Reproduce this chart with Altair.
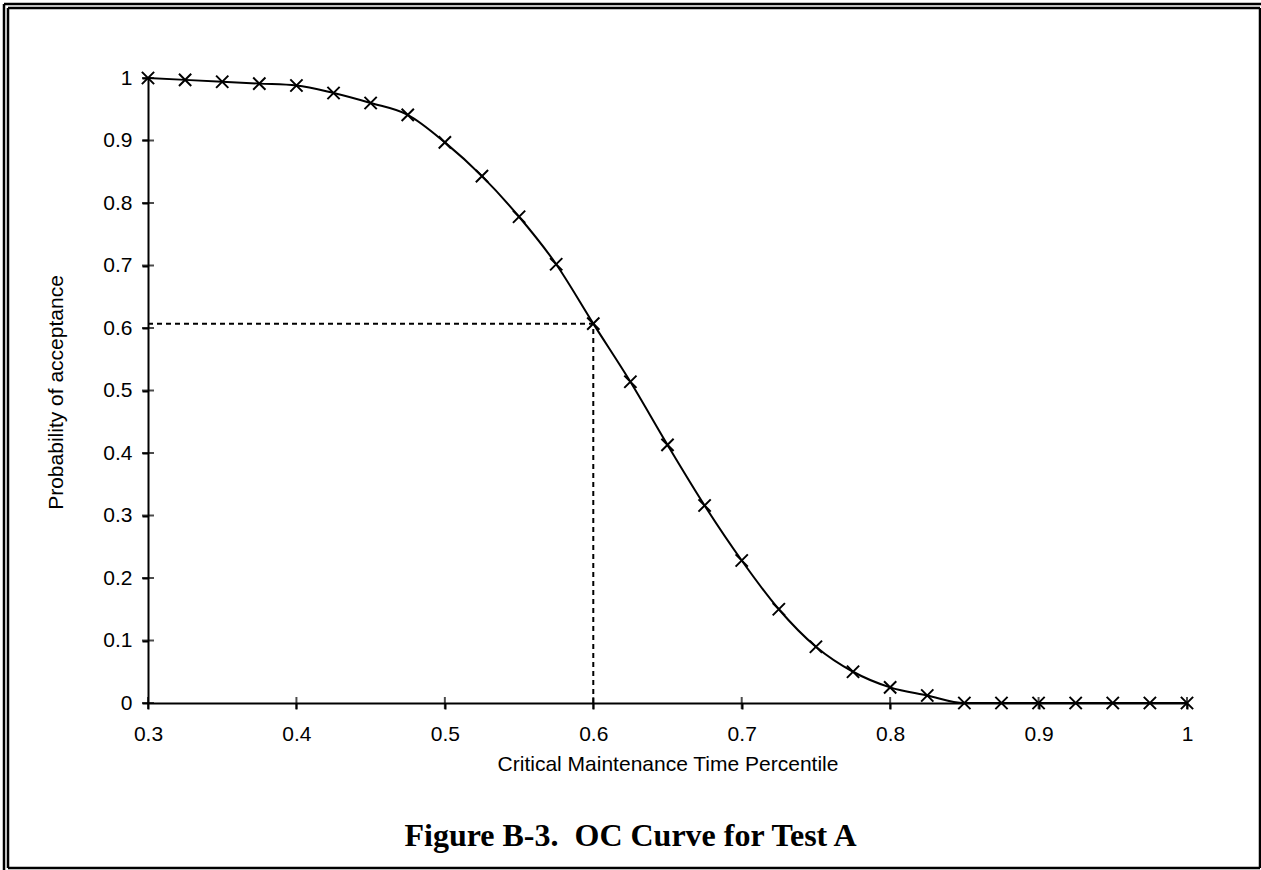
import altair as alt
import pandas as pd

# Data
x_vals = [0.3, 0.325, 0.35, 0.375, 0.4, 0.425, 0.45, 0.475, 0.5, 0.525,
          0.55, 0.575, 0.6, 0.625, 0.65, 0.675, 0.7, 0.725, 0.75, 0.775,
          0.8, 0.825, 0.85, 0.875, 0.9, 0.925, 0.95, 0.975, 1.0]
p_accept = [1.0, 0.997, 0.994, 0.991, 0.988, 0.976, 0.960, 0.941, 0.897, 0.843,
            0.778, 0.702, 0.607, 0.514, 0.413, 0.316, 0.228, 0.150, 0.090, 0.050,
            0.025, 0.012, 0.0, 0.0, 0.0, 0.0, 0.0, 0.0, 0.0]
x_ticks = [0.3, 0.4, 0.5, 0.6, 0.7, 0.8, 0.9, 1.0]
y_ticks = [0.0, 0.1, 0.2, 0.3, 0.4, 0.5, 0.6, 0.7, 0.8, 0.9, 1.0]
ref_x = 0.6
ref_y = 0.607
caption = ["Figure B-3.\u00a0 OC Curve for Test A"]

df = pd.DataFrame({"x": x_vals, "p": p_accept})
xt = pd.DataFrame({"x": x_ticks, "y": [0.0] * len(x_ticks)})
yt = pd.DataFrame({"y": y_ticks, "x": [0.3] * len(y_ticks)})
hdash = pd.DataFrame({"x": [0.3], "x2": [ref_x], "y": [ref_y]})
vdash = pd.DataFrame({"x": [ref_x], "y": [0.0], "y2": [ref_y]})
cap_df = pd.DataFrame({"t": caption})
one = pd.DataFrame({"a": [0]})

FONT = "Liberation Sans"
FS = 21

xscale = alt.Scale(domain=[0.3, 1.0], nice=False, zero=False)
yscale = alt.Scale(domain=[0.0, 1.0], nice=False)

xaxis = alt.Axis(values=x_ticks, format=".1~f", grid=False, domainColor="black",
                 domainWidth=2, tickColor="black", tickWidth=2, tickSize=6,
                 labelFont=FONT, labelFontSize=FS, labelColor="black", labelPadding=14,
                 labelFlush=False,
                 title="Critical Maintenance Time Percentile", titleFont=FONT,
                 titleFontSize=FS, titleFontWeight="normal", titleColor="black",
                 titleY=67, titleBaseline="alphabetic")
yaxis = alt.Axis(values=y_ticks, format=".1~f", grid=False, domainColor="black",
                 domainWidth=2, tickColor="black", tickWidth=2, tickSize=6,
                 labelFont=FONT, labelFontSize=FS, labelColor="black", labelPadding=10,
                 labelFlush=False,
                 title="Probability of acceptance", titleFont=FONT,
                 titleFontSize=FS, titleFontWeight="normal", titleColor="black",
                 titleX=-86, titleY=314, titleBaseline="alphabetic", titleAngle=-90)

base = alt.Chart(df)

line = base.mark_line(color="black", strokeWidth=2, interpolate="monotone").encode(
    x=alt.X("x:Q", scale=xscale, axis=xaxis),
    y=alt.Y("p:Q", scale=yscale, axis=yaxis),
)

points = base.mark_point(shape="M-1,-1L1,1M1,-1L-1,1", size=150, stroke="black",
                         strokeWidth=2, filled=False, opacity=1).encode(
    x=alt.X("x:Q", scale=xscale),
    y=alt.Y("p:Q", scale=yscale),
)

h_line = alt.Chart(hdash).mark_rule(color="black", strokeWidth=2, strokeDash=[5, 4]).encode(
    x="x:Q", x2="x2:Q", y="y:Q")
v_line = alt.Chart(vdash).mark_rule(color="black", strokeWidth=2, strokeDash=[5, 4]).encode(
    x="x:Q", y="y:Q", y2="y2:Q")

xtick_marks = alt.Chart(xt).mark_tick(orient="vertical", size=12, thickness=2, color="black").encode(
    x="x:Q", y="y:Q")
ytick_marks = alt.Chart(yt).mark_tick(orient="horizontal", size=12, thickness=2, color="black").encode(
    x="x:Q", y="y:Q")

caption_text = alt.Chart(cap_df).mark_text(
    font="Liberation Serif", fontSize=32, fontWeight="bold", color="black",
    align="center", baseline="alphabetic").encode(
    text="t:N", x=alt.value(482.5), y=alt.value(768))

# page border (double line at top / left)
bw = 2.5
borders = [
    alt.Chart(one).mark_rule(color="black", strokeWidth=bw).encode(
        x=alt.value(-144), x2=alt.value(1113), y=alt.value(-74)),
    alt.Chart(one).mark_rule(color="black", strokeWidth=bw).encode(
        x=alt.value(-144), y=alt.value(-74), y2=alt.value(792)),
    alt.Chart(one).mark_rule(color="black", strokeWidth=bw).encode(
        x=alt.value(-140), x2=alt.value(1112), y=alt.value(-70)),
    alt.Chart(one).mark_rule(color="black", strokeWidth=bw).encode(
        x=alt.value(-140), y=alt.value(-70), y2=alt.value(790)),
    alt.Chart(one).mark_rule(color="black", strokeWidth=bw).encode(
        x=alt.value(1112), y=alt.value(-70), y2=alt.value(790)),
    alt.Chart(one).mark_rule(color="black", strokeWidth=bw).encode(
        x=alt.value(-140), x2=alt.value(1112), y=alt.value(790)),
]

chart = alt.layer(
    h_line, v_line, line, points, xtick_marks, ytick_marks, caption_text, *borders
).properties(
    width=1039,
    height=625,
    padding={"left": 148, "top": 78, "right": 74, "bottom": 167},
    autosize=alt.AutoSizeParams(type="none"),
    background="white",
).configure_view(stroke=None)

chart.save("out.html", embed_options={"renderer": "svg", "actions": False})
